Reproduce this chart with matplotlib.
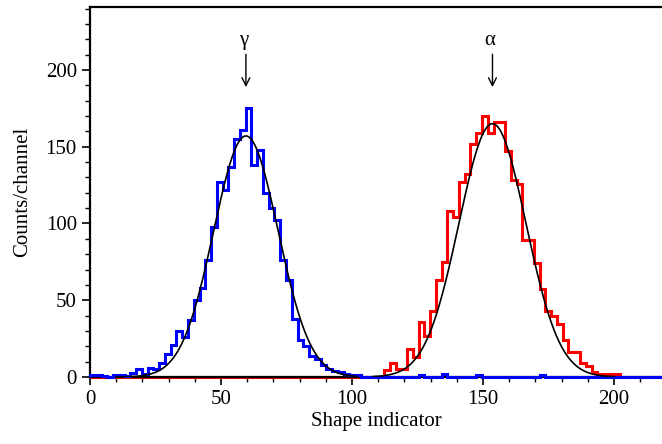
import numpy as np
import matplotlib
matplotlib.use("Agg")
import matplotlib.pyplot as plt
from matplotlib.ticker import MultipleLocator

plt.rcParams['font.family'] = ['Liberation Serif', 'DejaVu Serif']
plt.rcParams['font.size'] = 15

# histogram: 100 channels of width 2.2 from 0 to 220
bin_width = 2.2
n_bins = 100

# gamma events (blue), counts per channel, channel index -> value
gamma_counts = [1, 1, 0.5, 0, 1, 1, 0.5, 2.5, 5, 2,
                6, 5.5, 9, 15, 21, 30, 26, 37, 50, 58,
                76, 98, 127, 122, 137, 155, 161, 175, 138, 148,
                120, 110, 102, 76, 63, 38, 24, 20, 14, 12,
                8, 5, 4, 3, 2, 1, 1]
gamma_extra = {57: 1, 61: 2, 67: 1, 78: 1}

# alpha events (red), starting at channel 51
alpha_start = 51
alpha_counts = [4.5, 9, 5.5, 5.5, 18, 13, 36, 27, 43,
                63, 75, 108, 104, 127, 132, 152, 159, 170, 159,
                166, 166, 147, 128, 126, 89, 89, 74, 57, 43,
                40, 34.5, 24, 16.5, 16.5, 9, 7, 3, 2, 2,
                2, 2]

# gaussian fits: amplitude, centre, sigma
gamma_fit = (157, 59.5, 12.3)
alpha_fit = (165, 153.6, 12.8)

labels = ['γ', 'α']

edges = np.arange(n_bins + 1) * bin_width
blue = np.zeros(n_bins)
blue[:len(gamma_counts)] = gamma_counts
for k, v in gamma_extra.items():
    blue[k] = v
red = np.zeros(n_bins)
red[alpha_start:alpha_start + len(alpha_counts)] = alpha_counts

fig = plt.figure(figsize=(6.62, 4.44), dpi=100)
ax = fig.add_axes([90 / 662, 67 / 444, 572 / 662, 370 / 444])

ax.stairs(red, edges, color='#ff0000', lw=2.2, clip_on=False, zorder=2)
ax.stairs(blue, edges, color='#0000ff', lw=2.2, clip_on=False, zorder=3)

def gauss(x, a, mu, s):
    return a * np.exp(-(x - mu) ** 2 / (2 * s ** 2))

xg = np.linspace(10, 102, 300)
ax.plot(xg, gauss(xg, *gamma_fit), color='black', lw=1.2, zorder=4)
xa = np.linspace(108, 200, 300)
ax.plot(xa, gauss(xa, *alpha_fit), color='black', lw=1.2, zorder=4)

# arrows marking the peaks
for lab, fit in zip(labels, [gamma_fit, alpha_fit]):
    xpk = fit[1]
    ax.annotate('', xy=(xpk, 187), xytext=(xpk, 212),
                arrowprops=dict(arrowstyle='->', color='black', lw=1.0,
                                mutation_scale=14))
    ax.text(xpk - 1.0, 216.5, lab, ha='center', va='baseline', fontsize=15)

ax.set_xlim(0, 218.3)
ax.set_ylim(0, 241)
ax.xaxis.set_major_locator(MultipleLocator(50))
ax.xaxis.set_minor_locator(MultipleLocator(10))
ax.yaxis.set_major_locator(MultipleLocator(50))
ax.yaxis.set_minor_locator(MultipleLocator(10))
ax.tick_params(which='major', direction='out', length=6, width=1.2)
ax.tick_params(which='minor', direction='out', length=3.5, width=1.0)
ax.tick_params(top=False, right=False)
ax.spines['right'].set_visible(False)
for s in ['left', 'bottom', 'top']:
    ax.spines[s].set_linewidth(1.6)

ax.set_xlabel('Shape indicator', labelpad=2)
ax.set_ylabel('Counts/channel', labelpad=10)

fig.savefig('out.png', dpi=100)
